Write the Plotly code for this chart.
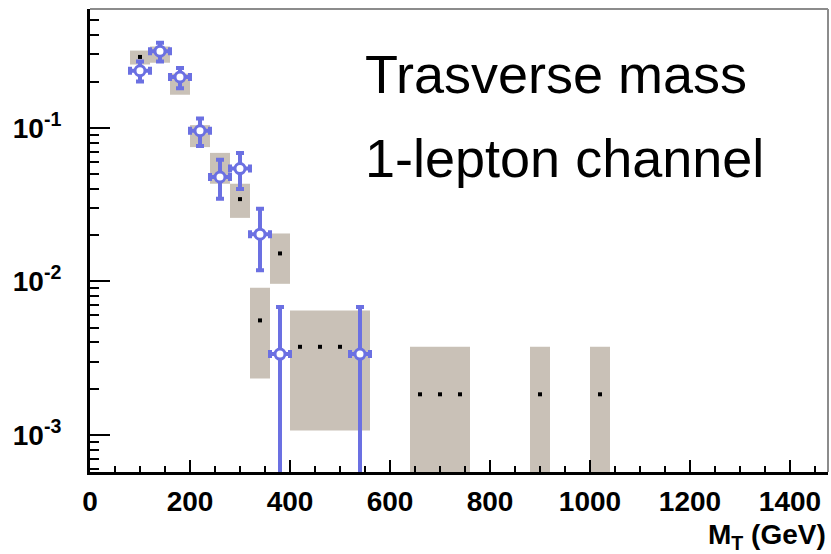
import plotly.graph_objects as go
import numpy as np

# ---------------- data ----------------
bin_width = 40

# background expectation (grey bands with central black dots)
mc_x = [100, 140, 180, 220, 260, 300, 340, 380, 420, 460, 500, 540, 660, 700, 740, 900, 1020]
mc_y = [0.289, 0.30, 0.19, 0.092, 0.055, 0.0343, 0.00557, 0.0152,
        0.00375, 0.00375, 0.00375, 0.00375,
        0.00184, 0.00184, 0.00184, 0.00184, 0.00184]
mc_lo = [0.258, 0.265, 0.164, 0.0748, 0.0432, 0.0259, 0.00233, 0.00964,
         0.00107, 0.00107, 0.00107, 0.00107,
         0.0, 0.0, 0.0, 0.0, 0.0]
mc_hi = [0.318, 0.338, 0.225, 0.104, 0.0686, 0.0432, 0.00908, 0.0205,
         0.00646, 0.00646, 0.00646, 0.00646,
         0.00375, 0.00375, 0.00375, 0.00375, 0.00375]

# data points (blue)
data_x = [100, 140, 180, 220, 260, 300, 340, 380, 540]
data_y = [0.235, 0.315, 0.214, 0.0956, 0.0478, 0.0542, 0.0203, 0.00336, 0.00336]
data_lo = [0.200, 0.270, 0.181, 0.0762, 0.0345, 0.040, 0.0118, 0.0, 0.0]
data_hi = [0.270, 0.357, 0.245, 0.115, 0.062, 0.0686, 0.0297, 0.0068, 0.0068]

x_ticks = [0, 200, 400, 600, 800, 1000, 1200, 1400]
x_ticktext = ["0", "200", "400", "600", "800", "1000", "1200", "1400"]
y_ticks = [1e-3, 1e-2, 1e-1]
y_ticktext = ["10<sup>-3</sup>", "10<sup>-2</sup>", "10<sup>-1</sup>"]

title_line1 = "Trasverse mass"
title_line2 = "1-lepton channel"
x_title = "M<sub>T</sub> (GeV)"

# ---------------- styling ----------------
GREY = "#c9c1b7"
BLUE = "#6b70e2"
FONT = "Liberation Sans"
FLOOR = 1e-7  # stand-in for zero on log axis

mc_lo_c = np.maximum(np.array(mc_lo), FLOOR)
mc_hi_a = np.array(mc_hi)

d_y = np.array(data_y)
d_lo = np.maximum(np.array(data_lo), FLOOR)
d_hi = np.array(data_hi)

fig = go.Figure()

fig.add_trace(go.Bar(
    x=mc_x, base=mc_lo_c, y=mc_hi_a - mc_lo_c, width=bin_width,
    marker=dict(color=GREY, line=dict(width=0)),
    hoverinfo="skip", showlegend=False,
))

fig.add_trace(go.Scatter(
    x=mc_x, y=mc_y, mode="markers",
    marker=dict(symbol="square", size=4, color="black"),
    showlegend=False,
))

fig.add_trace(go.Scatter(
    x=data_x, y=data_y, mode="markers",
    marker=dict(symbol="circle", size=10, color="white",
                line=dict(color=BLUE, width=3)),
    error_y=dict(type="data", symmetric=False,
                 array=d_hi - d_y, arrayminus=d_y - d_lo,
                 color=BLUE, thickness=4, width=4),
    error_x=dict(type="data", array=[bin_width / 2] * len(data_x),
                 color=BLUE, thickness=4, width=4),
    showlegend=False,
))

minor_y = [k * 10.0 ** e for e in range(-4, 1) for k in range(2, 10)]

fig.update_layout(
    width=831, height=554,
    margin=dict(l=90, r=3, t=9, b=82),
    paper_bgcolor="white", plot_bgcolor="white",
    showlegend=False,
    font=dict(family=FONT, color="black"),
    xaxis=dict(
        range=[0, 1476], tickvals=x_ticks,
        ticktext=["<b>%s</b>" % t for t in x_ticktext],
        ticks="inside", ticklen=12, tickwidth=2, tickcolor="black",
        minor=dict(dtick=50, tick0=0, ticks="inside", ticklen=6, tickwidth=2, tickcolor="black"),
        showline=True, linecolor="black", linewidth=3,
        showgrid=False, zeroline=False,
        tickfont=dict(family=FONT, size=28, color="black"),
        ticklabelstandoff=2,
    ),
    yaxis=dict(
        type="log", range=[-3.241, -0.227],
        tickvals=y_ticks, ticktext=["<b>%s</b>" % t for t in y_ticktext],
        ticks="inside", ticklen=20, tickwidth=2, tickcolor="black",
        minor=dict(tickvals=minor_y, ticks="inside", ticklen=9, tickwidth=2, tickcolor="black"),
        showline=True, linecolor="black", linewidth=3,
        showgrid=False, zeroline=False,
        tickfont=dict(family=FONT, size=28, color="black"),
        ticklabelstandoff=20,
    ),
    shapes=[
        dict(type="line", xref="paper", yref="paper", x0=0, x1=1, y0=1, y1=1,
             line=dict(color="#8c8c8c", width=2)),
        dict(type="line", xref="paper", yref="paper", x0=1, x1=1, y0=0, y1=1,
             line=dict(color="#8c8c8c", width=2)),
    ],
    annotations=[
        dict(text=title_line1, xref="paper", yref="paper", x=0.37, y=0.86,
             xanchor="left", yanchor="middle", showarrow=False,
             font=dict(family=FONT, size=54, color="black")),
        dict(text=title_line2, xref="paper", yref="paper", x=0.37, y=0.678,
             xanchor="left", yanchor="middle", showarrow=False,
             font=dict(family=FONT, size=54, color="black")),
        dict(text="<b>%s</b>" % x_title, xref="paper", yref="paper", x=1.0, y=-0.14,
             xanchor="right", yanchor="middle", showarrow=False,
             font=dict(family=FONT, size=28, color="black")),
    ],
)

fig.write_html("out.html")
